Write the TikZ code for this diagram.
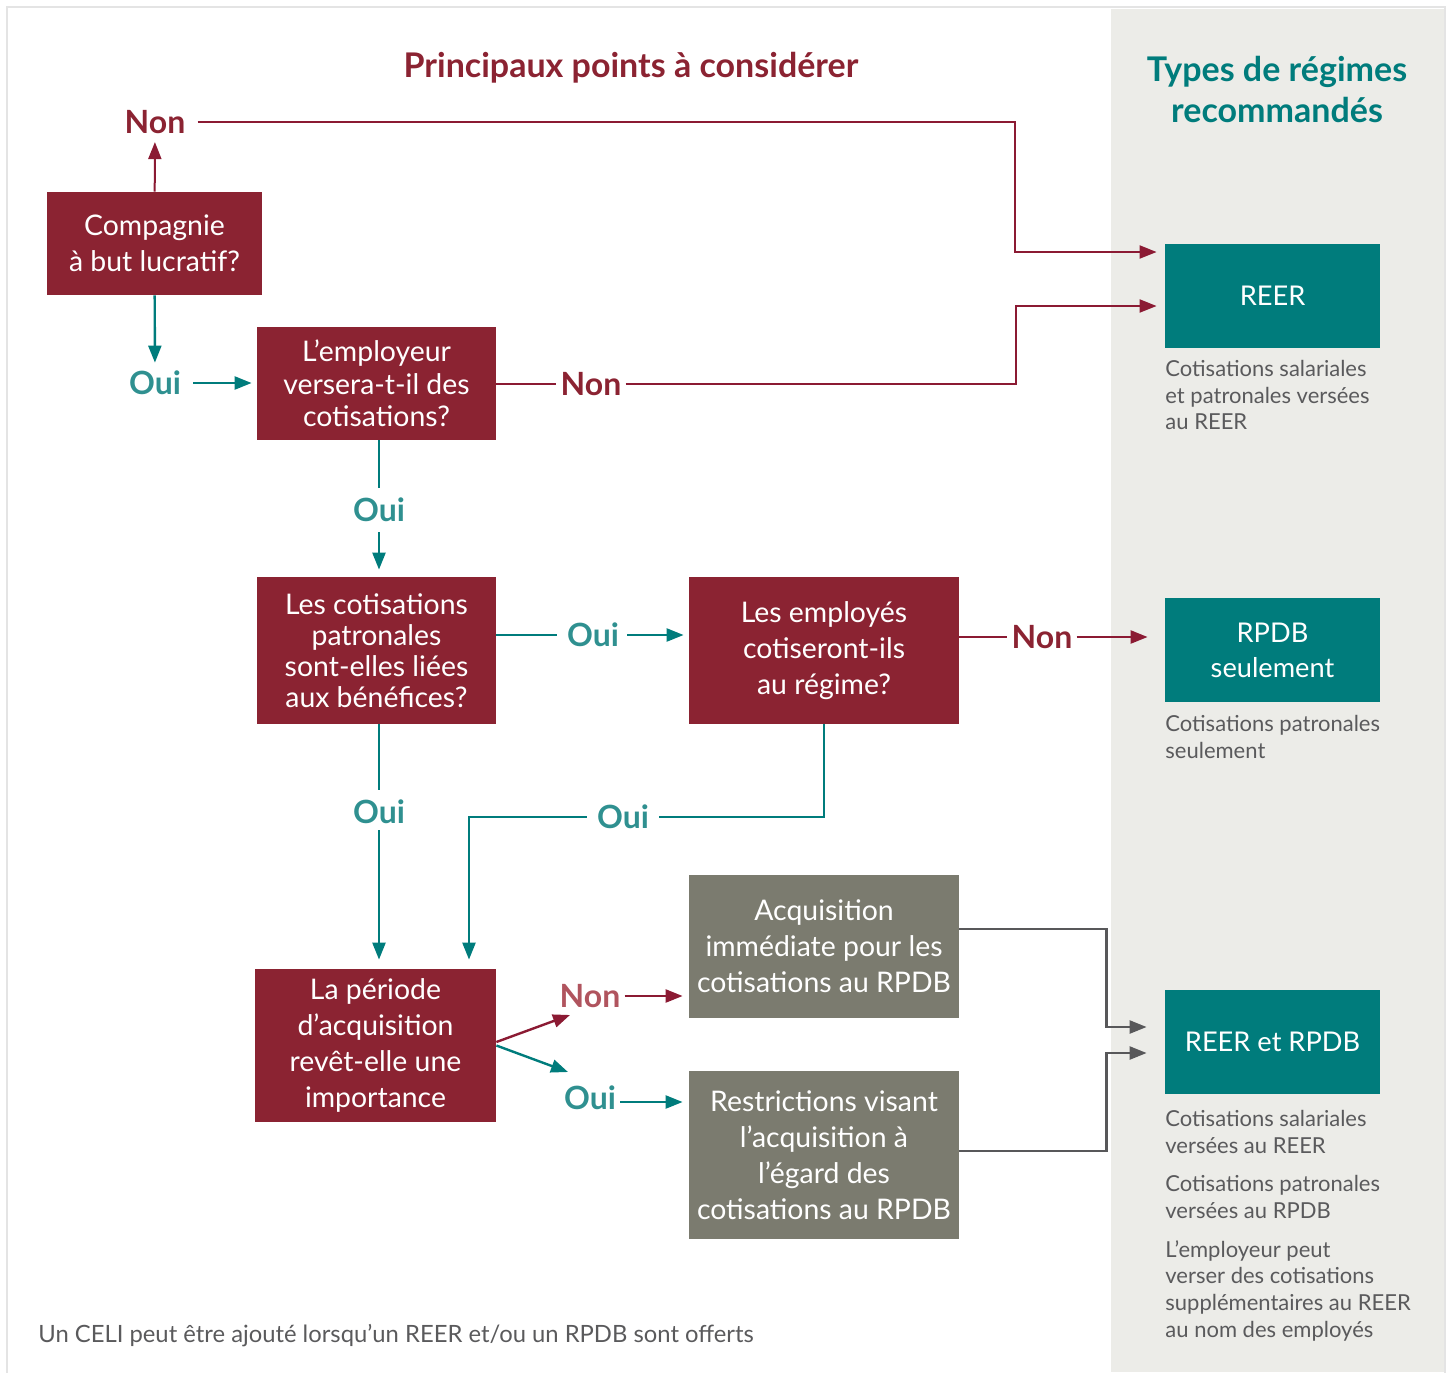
\documentclass[tikz,border=0pt]{standalone}
\usepackage{fontspec}
\setmainfont{Lato}
\usetikzlibrary{arrows.meta, positioning}

\definecolor{boxred}{HTML}{8B2332}
\definecolor{linered}{HTML}{8B1A33}
\definecolor{softred}{HTML}{B0545E}
\definecolor{boxteal}{HTML}{007C7C}
\definecolor{softteal}{HTML}{2F9090}
\definecolor{boxgray}{HTML}{7B7B6F}
\definecolor{linegray}{HTML}{58585A}
\definecolor{panelgray}{HTML}{ECECE8}
\definecolor{framegray}{HTML}{E4E4E4}
\definecolor{notegray}{HTML}{5A5A5C}

\begin{document}
\begin{tikzpicture}[x=0.5pt,y=-0.5pt,
    % Node styles
    question/.style={
        rectangle, fill=boxred, text=white, inner sep=0pt, align=center,
        font=\fontsize{14.2}{18}\selectfont,
      },
    vesting/.style={
        question, fill=boxgray,
      },
    plan/.style={
        question, fill=boxteal, minimum width=107.5pt, minimum height=52pt,
        font=\fontsize{13.6}{17.5}\selectfont,
      },
    yes label/.style={
        text=softteal, inner sep=2pt, font=\fontsize{16}{19}\selectfont\bfseries,
      },
    no label/.style={
        yes label, text=boxred,
      },
    note/.style={
        text=notegray, align=left, anchor=north west, inner sep=0pt,
        font=\fontsize{11}{13.3}\selectfont,
      },
    heading/.style={
        align=center, font=\fontsize{17}{20.5}\selectfont\bfseries,
      },
    % Edge styles
    red edge/.style={draw=linered, line width=1pt},
    teal edge/.style={draw=boxteal, line width=1.2pt},
    gray edge/.style={draw=linegray, line width=1.2pt},
    tip/.style={-{Triangle[length=8.5pt,width=6.5pt]}},
  ]
  \useasboundingbox (0,0) rectangle (1447,1372);

  % --- Frame and right panel ---
  \fill[panelgray] (1111,9) rectangle (1445,1372);
  \draw[framegray, line width=0.8pt] (7,1380) -- (7,7) -- (1445,7) -- (1445,1380);

  \node[heading, text=boxred] (title) at (631,68) {Principaux points à considérer};
  \node[heading, text=boxteal] (types) at (1277,89) {Types de régimes\\recommandés};

  % --- Questions ---
  \node[question, minimum width=107.5pt, minimum height=51.5pt] (lucratif) at (154.5,243.5)
    {Compagnie\\à but lucratif?};
  \node[question, minimum width=119.5pt, minimum height=56.5pt,
        font=\fontsize{14.2}{16.3}\selectfont] (employeur) at (376.5,383.5)
    {L’employeur\\versera-t-il des\\cotisations?};
  \node[question, minimum width=119.5pt, minimum height=73.5pt,
        font=\fontsize{14.2}{15.6}\selectfont] (benefices) at (376.5,650.5)
    {Les cotisations\\patronales\\sont-elles liées\\aux bénéfices?};
  \node[question, minimum width=135pt, minimum height=73.5pt] (employes) at (824,650.5)
    {Les employés\\cotiseront-ils\\au régime?};
  \node[question, minimum width=120.5pt, minimum height=76.5pt] (periode) at (375.5,1045.5)
    {La période\\d’acquisition\\revêt-elle une\\importance};

  % --- Vesting boxes ---
  \node[vesting, minimum width=135pt, minimum height=71.5pt] (immediate) at (824,946.5)
    {Acquisition\\immédiate pour les\\cotisations au RPDB};
  \node[vesting, minimum width=135pt, minimum height=84pt] (restrictions) at (824,1155)
    {Restrictions visant\\l’acquisition à\\l’égard des\\cotisations au RPDB};

  % --- Recommended plans ---
  \node[plan] (reer) at (1272.5,296) {REER};
  \node[plan] (rpdb) at (1272.5,650) {RPDB\\seulement};
  \node[plan] (both) at (1272.5,1042) {REER et RPDB};

  \node[note] (reernote) at (1165,360) {Cotisations salariales\\et patronales versées\\au REER};
  \node[note] (rpdbnote) at (1165,715) {Cotisations patronales\\seulement};
  \node[note] (bothnote1) at (1165,1110) {Cotisations salariales\\versées au REER};
  \node[note] (bothnote2) at (1165,1175) {Cotisations patronales\\versées au RPDB};
  \node[note] (bothnote3) at (1165,1240) {L’employeur peut\\verser des cotisations\\supplémentaires au REER\\au nom des employés};
  \node[note, anchor=base west, font=\fontsize{11.9}{13.3}\selectfont] (celi) at (38,1342)
    {Un CELI peut être ajouté lorsqu’un REER et/ou un RPDB sont offerts};

  % --- Answer labels ---
  \node[no label] (non1) at (155,122) {Non};
  \node[yes label] (oui1) at (155,383) {Oui};
  \node[no label] (non2) at (591,384) {Non};
  \node[yes label] (oui2) at (379,510) {Oui};
  \node[yes label] (oui3) at (593,635) {Oui};
  \node[no label] (non3) at (1042,637) {Non};
  \node[yes label] (oui4) at (379,812) {Oui};
  \node[yes label] (oui5) at (623,817) {Oui};
  \node[no label, text=softred] (non4) at (590,996) {Non};
  \node[yes label] (oui6) at (590,1098) {Oui};

  % --- Connectors ---
  \draw[red edge, tip, shorten >=2pt] (lucratif) -- (non1);
  \draw[red edge, tip, shorten <=4pt, shorten >=4pt] (non1.east)
    -| ([xshift=-75pt,yshift=22pt]reer.west) -- ([yshift=22pt]reer.west);
  \draw[teal edge, tip, shorten >=2pt] (lucratif) -- (oui1);
  \draw[teal edge, tip, shorten <=4pt, shorten >=2.5pt] (oui1) -- (oui1 -| employeur.west);
  \draw[red edge] (employeur.east |- non2) -- (non2);
  \draw[red edge, tip, shorten >=4pt] (non2)
    -| ([xshift=-74.5pt,yshift=-5pt]reer.west) -- ([yshift=-5pt]reer.west);

  \draw[teal edge, shorten >=3pt] (employeur.south -| oui2) -- (oui2);
  \draw[teal edge, tip, shorten <=3pt, shorten >=3.5pt] (oui2) -- (oui2 |- benefices.north);
  \draw[teal edge, shorten >=3pt] (benefices.east |- oui3) -- (oui3);
  \draw[teal edge, tip, shorten <=2pt, shorten >=2.5pt] (oui3) -- (oui3 -| employes.west);
  \draw[linered, line width=1.2pt] (employes.east |- non3) -- (non3);
  \draw[linered, line width=1.2pt, tip, shorten >=8.5pt] (non3) -- (non3 -| rpdb.west);

  \draw[teal edge, shorten >=3pt] (benefices.south -| oui4) -- (oui4);
  \draw[teal edge, tip, shorten <=1pt, shorten >=4.5pt] (oui4) -- (oui4 |- periode.north);
  \draw[teal edge, shorten >=3pt] (employes.south) |- (oui5);
  \draw[teal edge, tip, shorten <=3pt, shorten >=4.5pt] (oui5) -| ([xshift=46.75pt]periode.north);

  \draw[red edge, line width=1.2pt, tip] ([yshift=1.75pt]periode.east) -- ([xshift=-10pt,yshift=-9.5pt]non4.center);
  \draw[teal edge, tip] (periode.east) -- ([xshift=-11pt,yshift=13pt]oui6.center);
  \draw[red edge, line width=1.2pt, tip, shorten >=3pt] (non4) -- (non4 -| immediate.west);
  \draw[teal edge, tip, shorten >=3pt] ([yshift=-2pt]oui6.east) -- ([yshift=-2pt]oui6.east -| restrictions.west);

  \draw[gray edge, tip] ([yshift=8.75pt]immediate.east)
    -| ([xshift=-29pt,yshift=7.5pt]both.west) -- ([xshift=-9pt,yshift=7.5pt]both.west);
  \draw[gray edge, tip] ([yshift=2pt]restrictions.east)
    -| ([xshift=-29pt,yshift=-5.5pt]both.west) -- ([xshift=-9pt,yshift=-5.5pt]both.west);
\end{tikzpicture}
\end{document}
